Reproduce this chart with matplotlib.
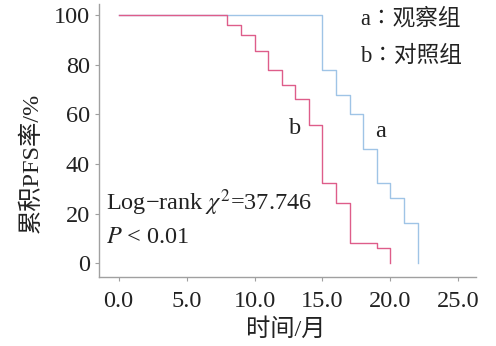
import matplotlib
matplotlib.use("Agg")
import matplotlib.pyplot as plt

plt.rcParams["font.family"] = ["Liberation Serif", "Noto Sans CJK SC"]
plt.rcParams["mathtext.fontset"] = "stix"

# survival curves (time in months, PFS in %)
time_b = [0, 8, 9, 10, 11, 12, 13, 14, 15, 16, 17, 19, 20]
surv_b = [100, 95.9, 91.9, 85.7, 77.7, 71.7, 66, 55.9, 32.2, 24.1, 8.0, 6.0, 0]
time_a = [0, 15, 16, 17, 18, 19, 20, 21, 22]
surv_a = [100, 77.7, 67.7, 60, 46, 32.2, 26.2, 16.1, 0]

x_ticks = [0, 5, 10, 15, 20, 25]
y_ticks = [0, 20, 40, 60, 80, 100]

blue = "#9fc4e6"
red = "#de5d8a"
grey = "#a0a0a0"
txt = "#222222"

fig = plt.figure(figsize=(4.96, 3.46), dpi=100)
ax = fig.add_axes([0.2006, 0.2003, 0.7591, 0.7877])

ax.step(time_a, surv_a, where="post", color=blue, lw=1.0)
ax.step(time_b, surv_b, where="post", color=red, lw=1.0)

ax.set_xlim(-1.41, 26.3)
ax.set_ylim(-5.4, 104.4)
ax.set_xticks(x_ticks)
ax.set_xticklabels([f"{v:.1f}" for v in x_ticks])
ax.set_yticks(y_ticks)
ax.set_yticklabels([str(v) for v in y_ticks])

for s in ["top", "right"]:
    ax.spines[s].set_visible(False)
for s in ["left", "bottom"]:
    ax.spines[s].set_color(grey)
    ax.spines[s].set_linewidth(1.0)
ax.tick_params(axis="both", colors=grey, labelcolor=txt, length=3,
               width=0.8, labelsize=17.5)
ax.tick_params(axis="y", pad=4)
ax.tick_params(axis="x", pad=7)

fs = 17.5
ax.text(17.75, 98.5, "a\u2236观察组", fontsize=16.3, color=txt, ha="left", va="center")
ax.text(17.75, 83.5, "b\u2236对照组", fontsize=16.3, color=txt, ha="left", va="center")
ax.text(13.0, 54.4, "b", fontsize=fs, color=txt, ha="center", va="center")
ax.text(19.3, 53.0, "a", fontsize=fs, color=txt, ha="center", va="center")
ax.text(-0.93, 24.3, "Log\u2212rank $\\chi^2$=37.746", fontsize=fs, color=txt,
        ha="left", va="center")
ax.text(-0.93, 10.2, "$P$ < 0.01", fontsize=fs, color=txt, ha="left", va="center")

fig.text(32 / 496, 1 - 162.5 / 346, "累积PFS率/%", rotation=90, fontsize=fs,
         color=txt, ha="center", va="center")
fig.text(285.5 / 496, 1 - 330 / 346, "时间/月", fontsize=fs, color=txt,
         ha="center", va="center")

fig.savefig("out.png", dpi=100)
